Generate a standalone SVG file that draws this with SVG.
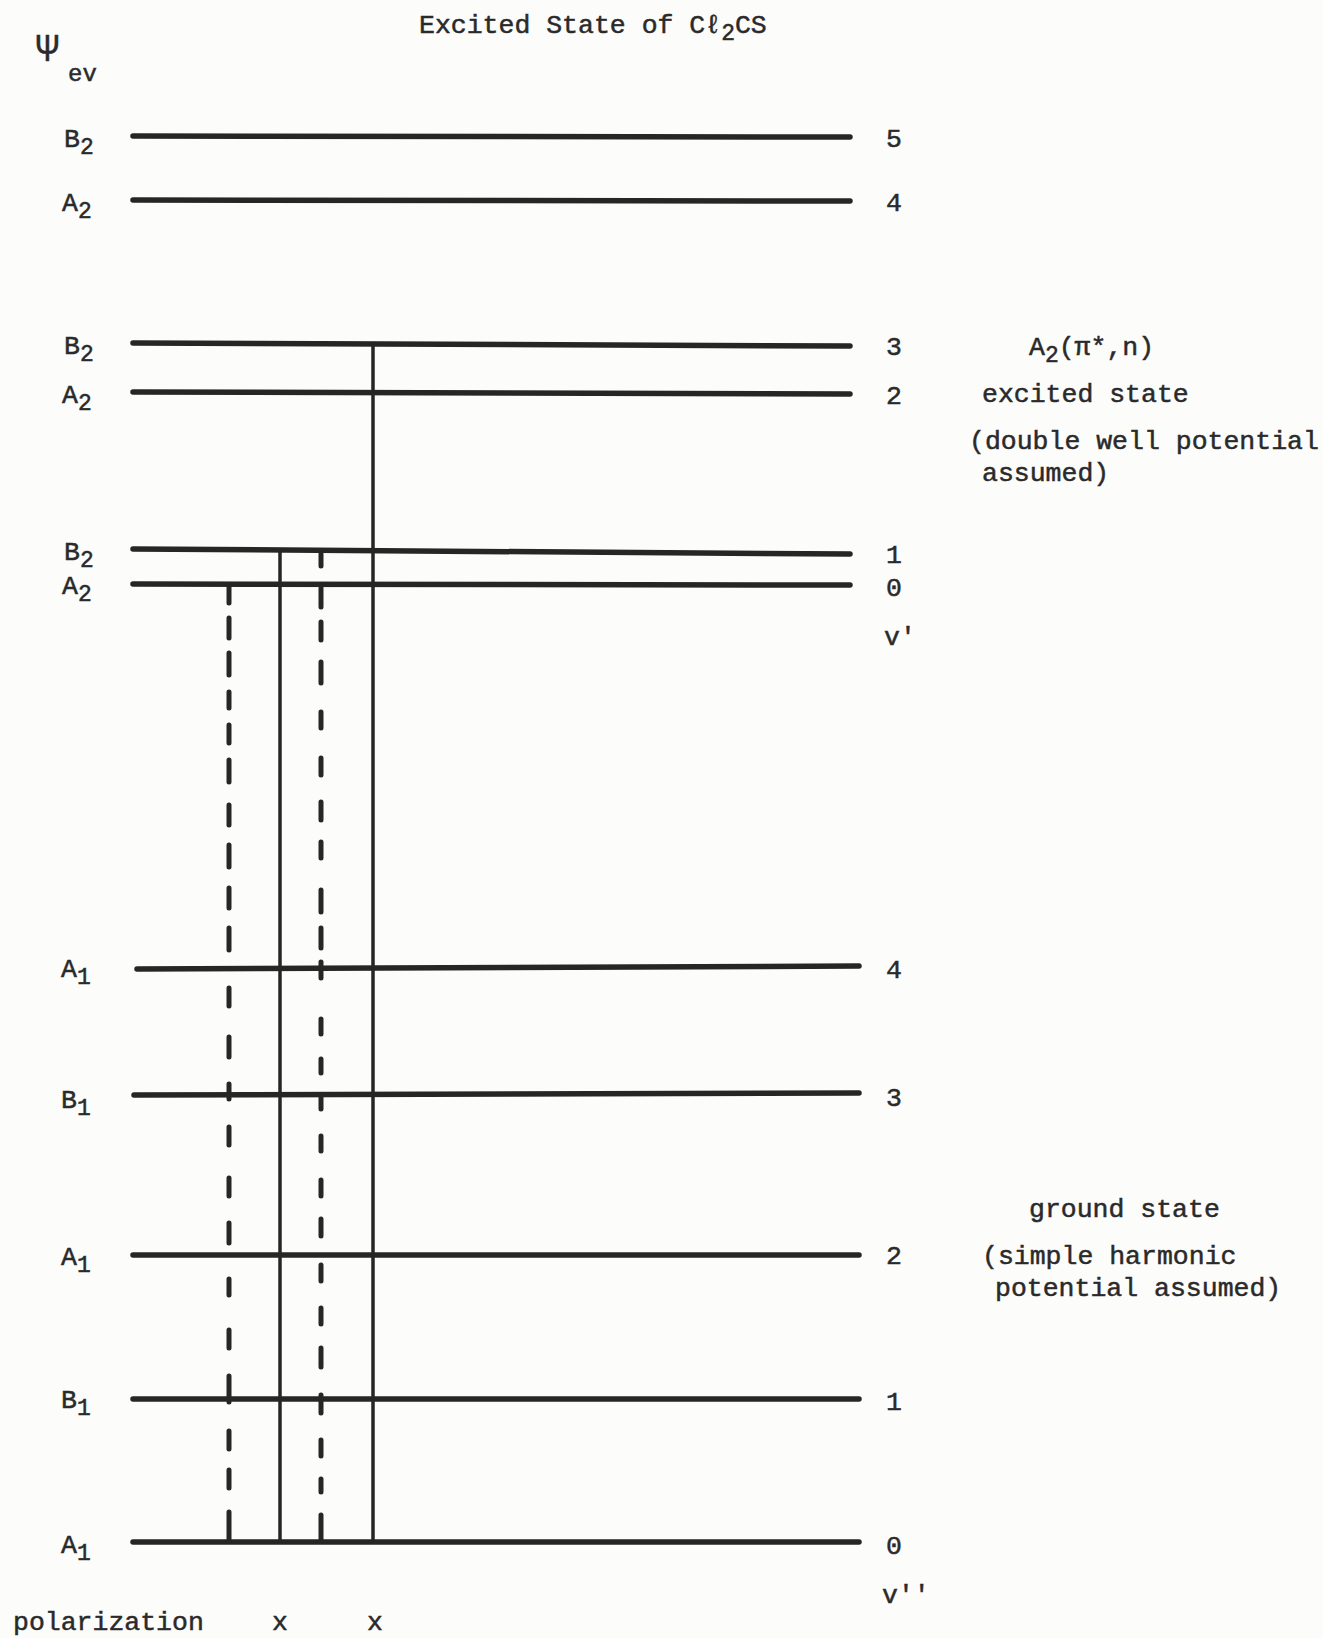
<svg xmlns="http://www.w3.org/2000/svg" width="1323" height="1638" viewBox="0 0 1323 1638">
<style>
.t{font-family:"Liberation Mono","DejaVu Sans Mono",monospace;font-size:26.5px;fill:#2a2a2a;stroke:#2a2a2a;stroke-width:0.5}
.s{font-size:23px}
.lv{stroke:#262626;stroke-width:5.5;fill:none;stroke-linecap:round}
.sol{stroke:#262626;stroke-width:3.5;fill:none}
.dsh{stroke:#262626;stroke-width:5;fill:none;stroke-linecap:round}
</style>
<rect width="1323" height="1638" fill="#fcfcfb"/>
<text class="t" x="419" y="33">Excited State of Cℓ<tspan class="s" dy="7">2</tspan><tspan dy="-7">CS</tspan></text>
<text class="t" x="36" y="61" style="font-size:38px">Ψ</text>
<text class="t" x="68" y="81" style="font-size:24px">ev</text>

<g id="ex5"><line class="lv" x1="133" y1="136" x2="850" y2="137"/><text class="t" x="64" y="147">B<tspan class="s" dy="7">2</tspan></text><text class="t" x="886" y="147">5</text></g>
<g id="ex4"><line class="lv" x1="133" y1="200" x2="850" y2="201"/><text class="t" x="62" y="211">A<tspan class="s" dy="7">2</tspan></text><text class="t" x="886" y="211">4</text></g>
<g id="ex3"><line class="lv" x1="133" y1="343" x2="850" y2="346"/><text class="t" x="64" y="354">B<tspan class="s" dy="7">2</tspan></text><text class="t" x="886" y="355">3</text></g>
<g id="ex2"><line class="lv" x1="133" y1="392" x2="850" y2="394"/><text class="t" x="62" y="403">A<tspan class="s" dy="7">2</tspan></text><text class="t" x="886" y="404">2</text></g>
<g id="ex1"><line class="lv" x1="133" y1="549" x2="850" y2="554"/><text class="t" x="64" y="560">B<tspan class="s" dy="7">2</tspan></text><text class="t" x="886" y="563">1</text></g>
<g id="ex0"><line class="lv" x1="133" y1="584" x2="850" y2="585"/><text class="t" x="62" y="594">A<tspan class="s" dy="7">2</tspan></text><text class="t" x="886" y="596">0</text></g>
<text class="t" x="884" y="645">v'</text>

<g id="gr4"><line class="lv" x1="137" y1="969" x2="859" y2="966"/><text class="t" x="61" y="977">A<tspan class="s" dy="7">1</tspan></text><text class="t" x="886" y="978">4</text></g>
<g id="gr3"><line class="lv" x1="134" y1="1095" x2="859" y2="1093"/><text class="t" x="61" y="1108">B<tspan class="s" dy="7">1</tspan></text><text class="t" x="886" y="1106">3</text></g>
<g id="gr2"><line class="lv" x1="133" y1="1255" x2="859" y2="1255"/><text class="t" x="61" y="1265">A<tspan class="s" dy="7">1</tspan></text><text class="t" x="886" y="1264">2</text></g>
<g id="gr1"><line class="lv" x1="133" y1="1399" x2="859" y2="1399"/><text class="t" x="61" y="1408">B<tspan class="s" dy="7">1</tspan></text><text class="t" x="886" y="1410">1</text></g>
<g id="gr0"><line class="lv" x1="133" y1="1542" x2="859" y2="1542"/><text class="t" x="61" y="1553">A<tspan class="s" dy="7">1</tspan></text><text class="t" x="886" y="1554">0</text></g>
<text class="t" x="882" y="1603">v''</text>

<g id="exlabel">
<text class="t" x="1029" y="355">A<tspan class="s" dy="7">2</tspan><tspan dy="-7">(π*,n)</tspan></text>
<text class="t" x="982" y="402">excited state</text>
<text class="t" x="969" y="449">(double well potential</text>
<text class="t" x="982" y="481">assumed)</text>
</g>
<g id="grlabel">
<text class="t" x="1029" y="1217">ground state</text>
<text class="t" x="982" y="1264">(simple harmonic</text>
<text class="t" x="995" y="1296">potential assumed)</text>
</g>
<g id="pol">
<text class="t" x="13" y="1630">polarization</text>
<text class="t" x="272" y="1630">x</text>
<text class="t" x="367" y="1630">x</text>
</g>

<g id="connectors">
<line class="sol" x1="280" y1="551" x2="280" y2="1542"/>
<line class="sol" x1="373" y1="345" x2="373" y2="1542"/>
<path class="dsh" d="M229 587V603M229 618V638M229 653V675M229 692V708M229 725V743M229 760V782M229 805V825M229 845V867M229 888V908M229 928V950M229 988V1006M229 1037V1057M229 1084V1099M229 1127V1145M229 1178V1196M229 1223V1243M229 1279V1295M229 1330V1348M229 1376V1402M229 1431V1449M229 1470V1488M229 1512V1540"/>
<path class="dsh" d="M321 554V566M321 588V607M321 622V640M321 662V683M321 712V728M321 758V775M321 802V820M321 842V858M321 890V912M321 928V948M321 962V978M321 1019V1034M321 1059V1073M321 1095V1109M321 1136V1151M321 1180V1196M321 1219V1236M321 1265V1281M321 1308V1324M321 1348V1367M321 1395V1413M321 1440V1456M321 1479V1492M321 1515V1540"/>
</g>
</svg>
